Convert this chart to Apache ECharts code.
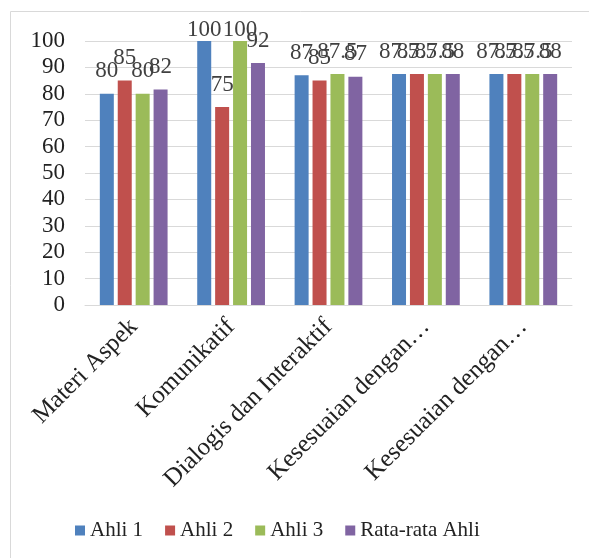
<!DOCTYPE html>
<html><head><meta charset="utf-8">
<script src="https://cdn.jsdelivr.net/npm/echarts@6/dist/echarts.min.js"></script>
<style>html,body{margin:0;padding:0;background:#fff}#c{width:589px;height:558px}</style>
</head><body><div id="c"></div>
<script>
var categories = ["Materi Aspek", "Komunikatif", "Dialogis dan Interaktif", "Kesesuaian dengan…", "Kesesuaian dengan…"];
var ahli1 = [80, 100, 87, 87.5, 87.5];
var ahli2 = [85, 75, 85, 87.5, 87.5];
var ahli3 = [80, 100, 87.5, 87.5, 87.5];
var rata = [81.67, 91.67, 86.5, 87.5, 87.5];
var seriesNames = ["Ahli 1", "Ahli 2", "Ahli 3", "Rata-rata Ahli"];
var yMax = 100;
var colors = ["#4F81BD", "#C0504D", "#9BBB59", "#8064A2"];
var font = "'Liberation Serif', 'Times New Roman', serif";

function fmtRaw(p) { return String(p.value); }
function fmtRound(p) { return String(Math.round(p.value)); }
var chart = echarts.init(document.getElementById('c'));
var data = [ahli1, ahli2, ahli3, rata];
chart.setOption({
  animation: false,
  graphic: [{type: 'rect', shape: {x: 10.5, y: 11.5, width: 600, height: 600}, style: {fill: 'none', stroke: '#d9d9d9', lineWidth: 1}}],
  grid: {left: 85, right: 17, top: 41, bottom: 253, containLabel: false},
  legend: {
    bottom: 12, left: 70, itemWidth: 10, itemHeight: 10, itemGap: 22,
    icon: 'rect',
    textStyle: {fontFamily: font, fontSize: 21, color: '#222'},
    data: seriesNames
  },
  xAxis: {
    type: 'category', data: categories,
    axisLine: {lineStyle: {color: '#d9d9d9', width: 1}},
    axisTick: {show: false},
    axisLabel: {rotate: 45, interval: 0, fontFamily: font, fontSize: 25, color: '#222', margin: 18}
  },
  yAxis: {
    type: 'value', min: 0, max: yMax, interval: 10,
    axisLine: {show: false}, axisTick: {show: false},
    splitLine: {lineStyle: {color: '#d9d9d9', width: 1}},
    axisLabel: {fontFamily: font, fontSize: 23, color: '#222', margin: 20}
  },
  series: data.map(function (d, i) {
    return {
      type: 'bar', name: seriesNames[i],
      data: d.map(function (v) {
        return v >= yMax ? {value: v, label: {distance: 0}} : v;
      }),
      barWidth: 14, barGap: '28%',
      itemStyle: {color: colors[i]},
      label: {show: true, position: 'top', distance: 11,
        formatter: i === 3 ? fmtRound : fmtRaw,
        fontFamily: font, fontSize: 23, color: '#404040'}
    };
  })
});
</script></body></html>
